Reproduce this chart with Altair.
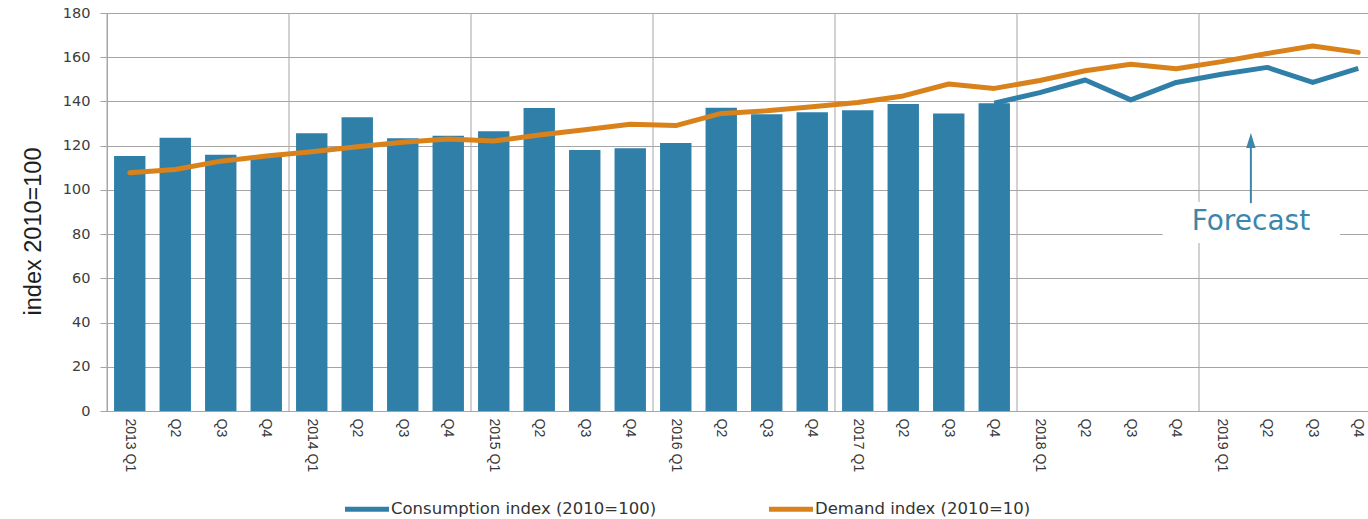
import altair as alt
import pandas as pd

# Quarterly categories along the x axis
quarters = [
    "2013 Q1", "2013 Q2", "2013 Q3", "2013 Q4",
    "2014 Q1", "2014 Q2", "2014 Q3", "2014 Q4",
    "2015 Q1", "2015 Q2", "2015 Q3", "2015 Q4",
    "2016 Q1", "2016 Q2", "2016 Q3", "2016 Q4",
    "2017 Q1", "2017 Q2", "2017 Q3", "2017 Q4",
    "2018 Q1", "2018 Q2", "2018 Q3", "2018 Q4",
    "2019 Q1", "2019 Q2", "2019 Q3", "2019 Q4",
]

# Consumption index, actuals 2013 Q1 - 2017 Q4 (bars)
consumption = [
    115.3, 123.6, 115.9, 114.9,
    125.6, 132.8, 123.3, 124.5,
    126.5, 137.0, 118.0, 118.8,
    121.2, 137.2, 134.2, 135.1,
    136.0, 138.8, 134.6, 139.2,
]

# Consumption index forecast, 2017 Q4 - 2019 Q4 (line)
consumption_forecast = [139.2, 144.0, 149.7, 140.7, 148.6, 152.3, 155.4, 148.6, 155.0]

# Demand index, 2013 Q1 - 2019 Q4
demand = [
    107.8, 109.2, 113.0, 115.3,
    117.3, 119.5, 121.5, 123.0,
    122.1, 124.8, 127.2, 129.7,
    129.1, 134.6, 135.8, 137.6,
    139.5, 142.5, 147.9, 145.9,
    149.5, 153.9, 156.8, 154.8,
    158.0, 161.7, 165.1, 162.2,
]

CONS = "Consumption index (2010=100)"
DEM = "Demand index (2010=10)"
BLUE = "#2f7fa8"
ORANGE = "#d9821c"
TEAL = "#3b87ab"
GRID = "#a5a5a5"

PLOT_W = 1261
PLOT_H = 398
SPAN = 1274  # the last quarter runs slightly past the right edge

bars_df = pd.DataFrame({"quarter": quarters[: len(consumption)], "value": consumption, "series": CONS})
fc_df = pd.DataFrame({"quarter": quarters[len(consumption) - 1:], "value": consumption_forecast})
dem_df = pd.DataFrame({"quarter": quarters, "value": demand})
years_df = pd.DataFrame({"quarter": [q for q in quarters if q.endswith("Q1")]})

x_scale = alt.Scale(domain=quarters, range=[0, SPAN], paddingInner=0, paddingOuter=0)
y_scale = alt.Scale(domain=[0, 180], nice=False)

x_axis = alt.Axis(
    title=None,
    labelExpr="indexof(datum.value, 'Q1') >= 0 ? datum.value : slice(datum.value, 5)",
    labelAngle=90,
    labelAlign="left",
    labelBaseline="middle",
    labelFont="Liberation Sans, Arial, sans-serif",
    labelFontSize=14,
    labelColor="#363636",
    labelPadding=7,
    labelOverlap=False,
    ticks=False,
    grid=False,
    domainColor=GRID,
)

y_axis = alt.Axis(
    values=list(range(0, 181, 20)),
    grid=True,
    title="index 2010=100",
    titleFont="Liberation Sans, Arial, sans-serif",
    titleFontSize=23.5,
    titleFontWeight="normal",
    titleColor="#1e1e1e",
    titleAngle=270,
    titleAlign="center",
    titleBaseline="middle",
    titleX=-74,
    titleY=218,
    labelFont="DejaVu Sans",
    labelFontSize=14.5,
    labelColor="#3c3c3c",
    labelPadding=10,
    tickSize=7,
    tickColor=GRID,
    gridColor=GRID,
    gridWidth=1,
    domainColor=GRID,
)


def xq(bandPosition=None):
    if bandPosition is None:
        return alt.X("quarter:N", scale=x_scale, axis=x_axis, sort=quarters)
    return alt.X("quarter:N", scale=x_scale, axis=x_axis, sort=quarters, bandPosition=bandPosition)


def yv(field="value:Q"):
    return alt.Y(field, scale=y_scale, axis=y_axis)


# Year separators at the start of every Q1 band
year_rules = alt.Chart(years_df).mark_rule(color=GRID, strokeWidth=1).encode(
    x=xq(0),
    y=alt.datum(0, scale=y_scale, axis=y_axis),
    y2=alt.datum(180),
)

bars = alt.Chart(bars_df).mark_bar(width={"band": 0.69}).encode(
    x=xq(),
    y=yv(),
    color=alt.Color(
        "series:N",
        scale=alt.Scale(domain=[CONS, DEM], range=[BLUE, ORANGE]),
        legend=alt.Legend(
            title=None,
            orient="none",
            legendX=238,
            legendY=474,
            direction="horizontal",
            symbolType="M-1,-0.11H1V0.11H-1Z",
            symbolSize=1936,
            symbolStrokeWidth=0,
            symbolOpacity=1,
            labelFont="DejaVu Sans",
            labelFontSize=16.5,
            labelColor="#333333",
            labelOffset=2,
            labelLimit=0,
            columnPadding=112,
            padding=0,
        ),
    ),
)

demand_line = alt.Chart(dem_df).mark_line(
    color=ORANGE, strokeWidth=5, strokeJoin="round", strokeCap="round"
).encode(x=xq(), y=yv())

forecast_line = alt.Chart(fc_df).mark_line(
    color=BLUE, strokeWidth=5, strokeJoin="round"
).encode(x=xq(), y=yv())

base = alt.layer(year_rules, bars, demand_line, forecast_line)

# "Forecast" call-out, placed on a continuous quarter-index scale
qx = alt.Scale(domain=[0, len(quarters)], range=[0, SPAN], nice=False, zero=False)

box_df = pd.DataFrame({"x0": [23.2], "x1": [27.1], "y0": [76.0], "y1": [94.5]})
box = alt.Chart(box_df).mark_rect(color="white").encode(
    x=alt.X("x0:Q", scale=qx, axis=None),
    x2="x1",
    y=yv("y0:Q"),
    y2="y1",
)

arrow_df = pd.DataFrame({"x": [25.14], "y0": [94.0], "y1": [120.0], "tip": [122.3], "label_y": [85.5]})
shaft = alt.Chart(arrow_df).mark_rule(color=TEAL, strokeWidth=2).encode(
    x=alt.X("x:Q", scale=qx, axis=None),
    y=yv("y0:Q"),
    y2="y1",
)
head = alt.Chart(arrow_df).mark_point(
    shape="M0,-1L0.62,1H-0.62Z", filled=True, size=225, color=TEAL, opacity=1, strokeWidth=0
).encode(
    x=alt.X("x:Q", scale=qx, axis=None),
    y=yv("tip:Q"),
)
label = alt.Chart(arrow_df).mark_text(
    text="Forecast", font="DejaVu Sans", fontSize=28, color=TEAL, align="center", baseline="middle"
).encode(
    x=alt.X("x:Q", scale=qx, axis=None),
    y=yv("label_y:Q"),
)

annotation = alt.layer(box, shaft, head, label)

chart = (
    alt.layer(base, annotation)
    .resolve_scale(x="independent")
    .properties(
        width=PLOT_W,
        height=PLOT_H,
        padding={"left": 107, "top": 13, "right": 0, "bottom": 108},
        autosize=alt.AutoSizeParams(type="none"),
        background="white",
    )
    .configure_view(strokeWidth=0)
)

chart.save("out.html", embed_options={"renderer": "svg", "actions": False})
